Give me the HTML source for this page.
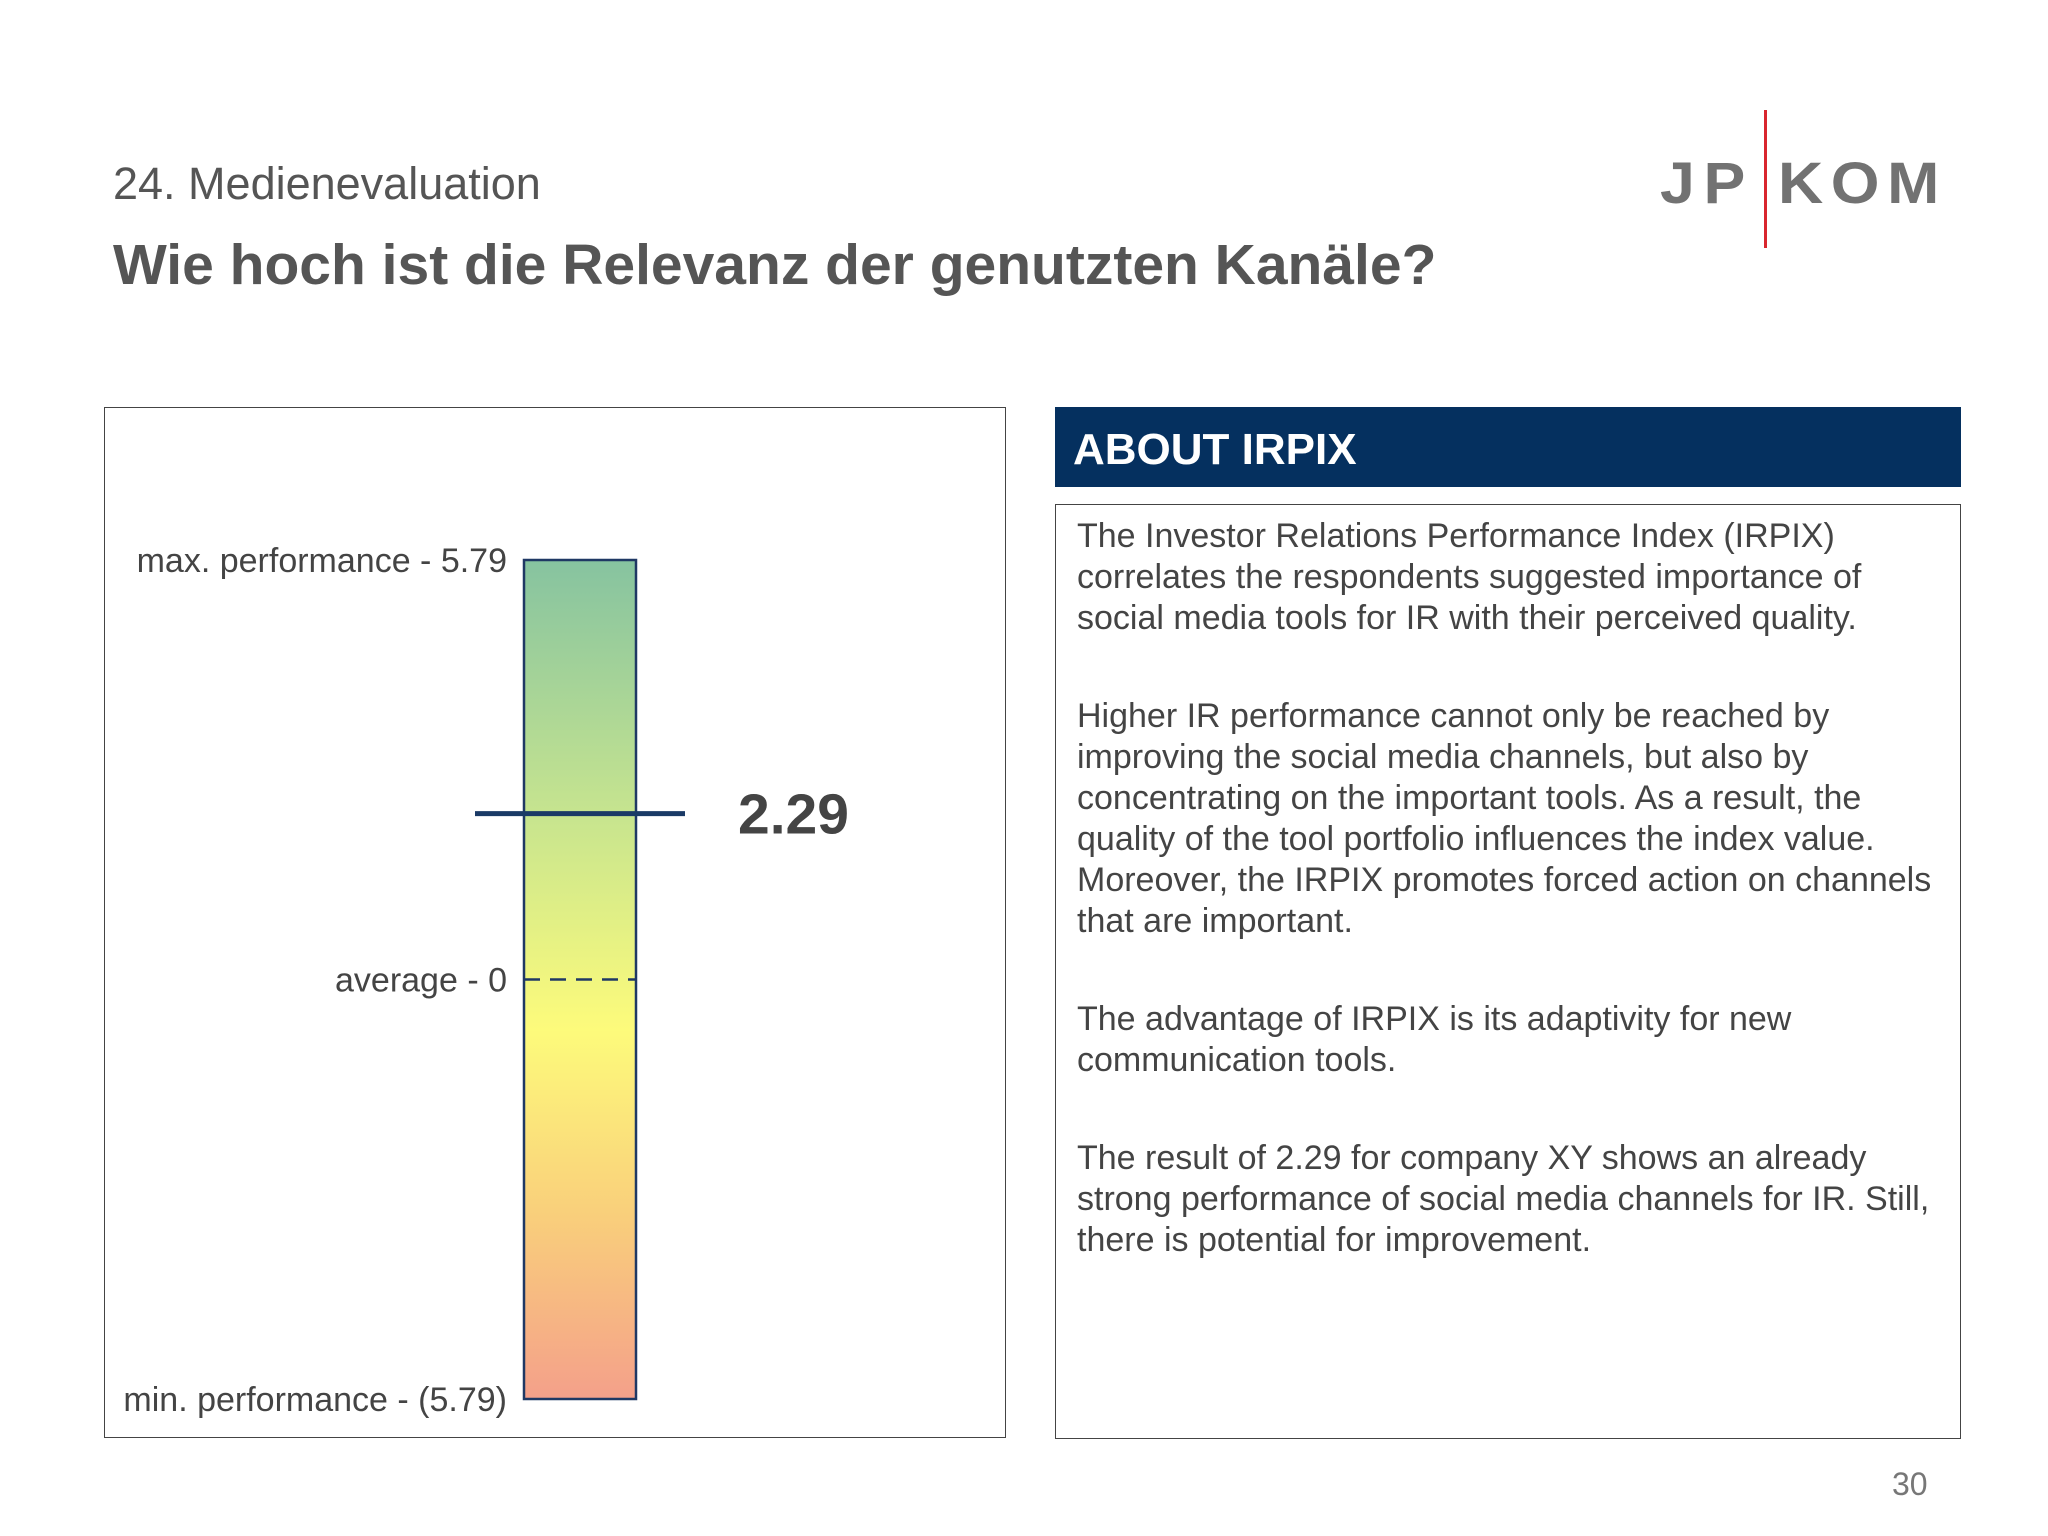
<!DOCTYPE html>
<html><head><meta charset="utf-8">
<style>
body{margin:0;width:2048px;height:1536px;background:#fff;position:relative;font-family:"Liberation Sans",sans-serif;overflow:hidden}
.a{position:absolute;white-space:nowrap}
</style></head><body>
<div class="a" style="left:113px;top:158px;font-size:45px;color:#555">24. Medienevaluation</div>
<div class="a" style="left:113px;top:232px;font-size:57px;font-weight:bold;color:#555">Wie hoch ist die Relevanz der genutzten Kanäle?</div>
<div class="a" style="left:1660px;top:110px;width:300px;height:140px">
 <div class="a" style="left:0;top:40px;font-size:58px;font-weight:bold;color:#727272;letter-spacing:8px;transform:scaleX(1.08);transform-origin:left">JP</div>
 <div class="a" style="left:104px;top:0;width:3px;height:138px;background:#d9262e"></div>
 <div class="a" style="left:118px;top:40px;font-size:58px;font-weight:bold;color:#727272;letter-spacing:7px;transform:scaleX(1.08);transform-origin:left">KOM</div>
</div>
<div class="a" style="left:104px;top:407px;width:902px;height:1031px;border:1.5px solid #444;box-sizing:border-box"></div>
<svg class="a" style="left:0;top:0" width="2048" height="1536">
<defs><linearGradient id="g" x1="0" y1="0" x2="0" y2="1">
<stop offset="0" stop-color="#86c3a0"/><stop offset="0.3" stop-color="#c6e48f"/><stop offset="0.56" stop-color="#fdfb7b"/><stop offset="0.78" stop-color="#f9cf7b"/><stop offset="1" stop-color="#f4a08a"/></linearGradient></defs>
<g id="c"></g>
</svg>
<div class="a" style="left:1055px;top:407px;width:906px;height:80px;background:#05305f"></div>
<div class="a" style="left:1073px;top:425px;font-size:44px;font-weight:bold;color:#fff">ABOUT IRPIX</div>
<div class="a" style="left:1055px;top:504px;width:906px;height:935px;border:1.5px solid #444;box-sizing:border-box"></div>
<div class="a" style="left:1077px;top:516px;font-size:34px;line-height:41px;color:#444;white-space:normal;width:880px">
<p style="margin:0 0 57px">The Investor Relations Performance Index (IRPIX)<br>correlates the respondents suggested importance of<br>social media tools for IR with their perceived quality.</p>
<p style="margin:0 0 57px">Higher IR performance cannot only be reached by<br>improving the social media channels, but also by<br>concentrating on the important tools. As a result, the<br>quality of the tool portfolio influences the index value.<br>Moreover, the IRPIX promotes forced action on channels<br>that are important.</p>
<p style="margin:0 0 57px">The advantage of IRPIX is its adaptivity for new<br>communication tools.</p>
<p style="margin:0">The result of 2.29 for company XY shows an already<br>strong performance of social media channels for IR. Still,<br>there is potential for improvement.</p>
</div>
<div class="a" style="left:1892px;top:1466px;font-size:32px;color:#777">30</div>
<script>
const scaleMax = 5.79;
const scaleMin = -5.79;
const tickValues = [5.79, 0, -5.79];
const tickLabels = ["max. performance - 5.79", "average - 0", "min. performance - (5.79)"];
const resultValue = [2.29];
const resultLabel = ["2.29"];
const top0=560, bot0=1399, bx=524, bw=112;
const y=v=>top0+(scaleMax-v)/(scaleMax-scaleMin)*(bot0-top0);
const ns="http://www.w3.org/2000/svg", g=document.getElementById('c');
function mk(t,a){const e=document.createElementNS(ns,t);for(const k in a)e.setAttribute(k,a[k]);g.appendChild(e);return e;}
let r=mk('rect',{x:bx,y:y(scaleMax),width:bw,height:y(scaleMin)-y(scaleMax),fill:'url(#g)',stroke:'#1f3864','stroke-width':2.5});


tickValues.forEach((v,i)=>{
 let t=mk('text',{x:507,y:y(v)+12,'text-anchor':'end','font-size':34,fill:'#444','font-family':'Liberation Sans'});
 t.textContent=tickLabels[i];
 
 
 if(v===0){let l=mk('line',{x1:bx,x2:bx+bw,y1:y(v),y2:y(v),stroke:'#1f3864','stroke-width':2.5,'stroke-dasharray':'16,10'});
 
 }
});
resultValue.forEach((v,i)=>{
 let l=mk('line',{x1:475,x2:685,y1:y(v),y2:y(v),stroke:'#1a3a66','stroke-width':5});
 
 
 let t=mk('text',{x:738,y:y(v)+20,'font-size':57,'font-weight':'bold',fill:'#444','font-family':'Liberation Sans'});
 t.textContent=resultLabel[i];
 
 
});
</script>
</body></html>
